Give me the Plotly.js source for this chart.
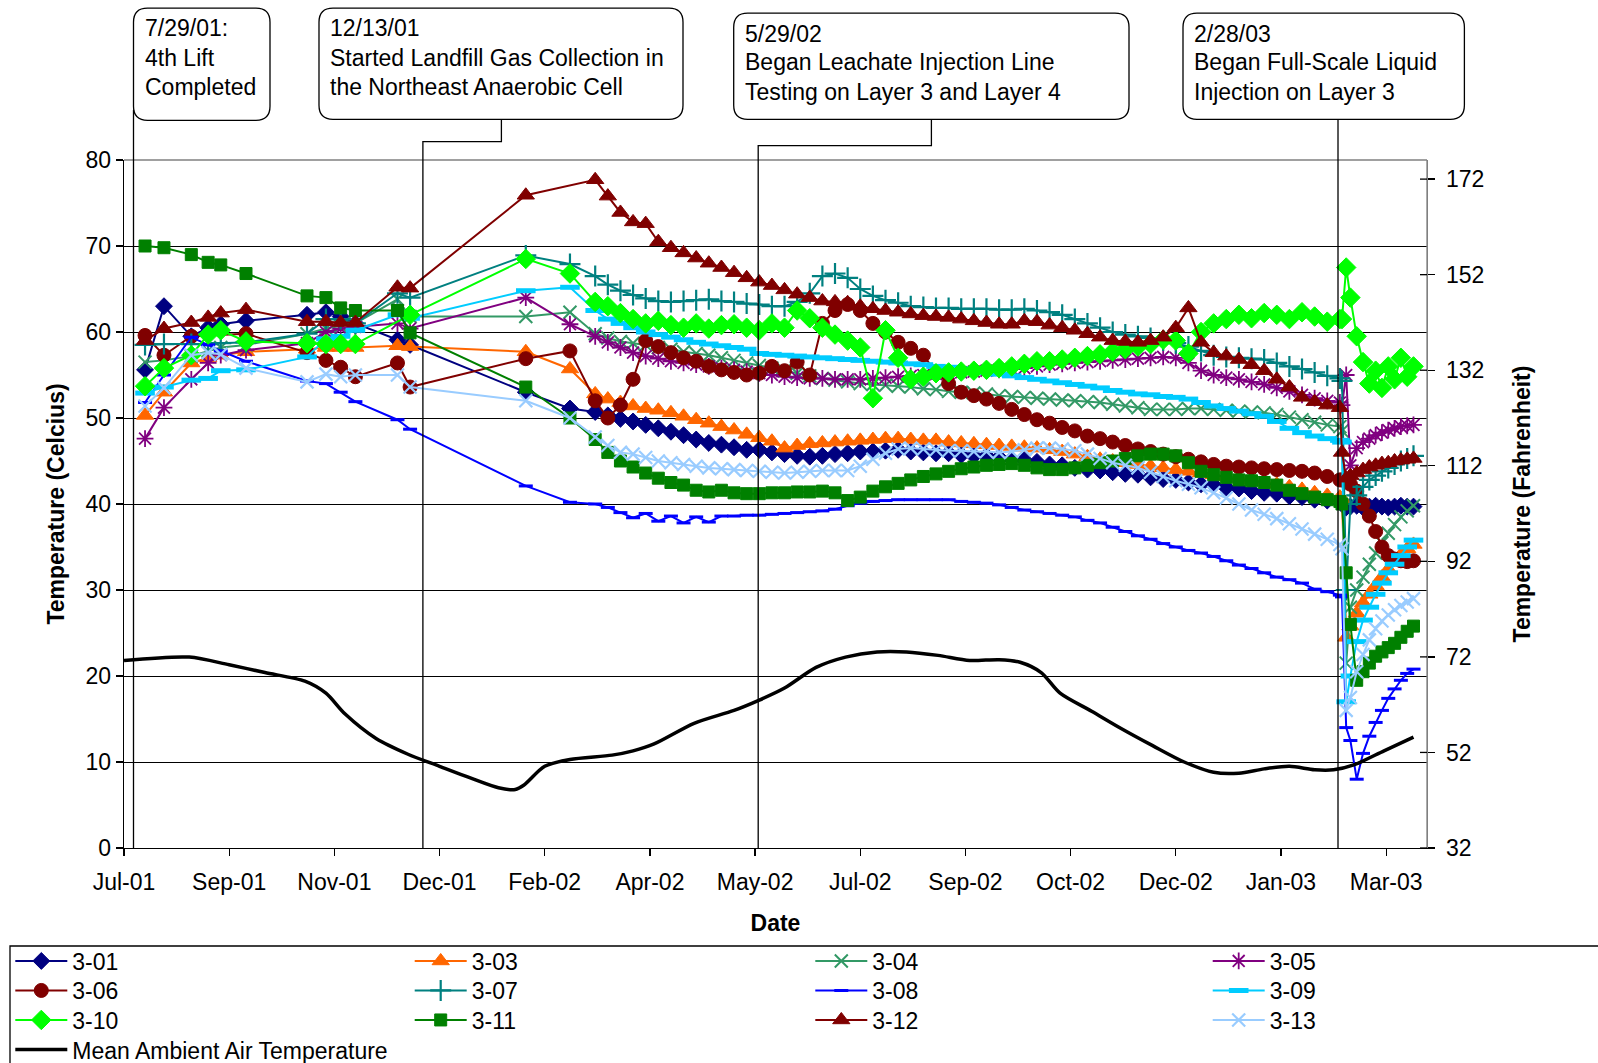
<!DOCTYPE html>
<html><head><meta charset="utf-8">
<script src="https://cdn.plot.ly/plotly-3.0.1.min.js"></script>
<style>html,body{margin:0;padding:0;background:#fff}#chart{width:1598px;height:1063px}</style>
</head><body><div id="chart"></div>
<script>
// ---------------- DATA ----------------
const tickDates = ['2001-07-29','2001-09-17','2001-11-06','2001-12-26','2002-02-14','2002-04-05','2002-05-25','2002-07-14','2002-09-02','2002-10-22','2002-12-11','2003-01-30','2003-03-21'];
const tickLabels = ['Jul-01','Sep-01','Nov-01','Dec-01','Feb-02','Apr-02','May-02','Jul-02','Sep-02','Oct-02','Dec-02','Jan-03','Mar-03'];
const fTicks = [32, 52, 72, 92, 112, 132, 152, 172];

const earlyDates = ['2001-08-08','2001-08-17','2001-08-30','2001-09-07','2001-09-13','2001-09-25','2001-10-24','2001-11-02','2001-11-09','2001-11-16','2001-12-06','2001-12-12'];
const winterDates = ['2002-02-05','2002-02-26'];
const denseDates = ['2002-03-10','2002-03-16','2002-03-22','2002-03-28','2002-04-03','2002-04-09','2002-04-15','2002-04-21','2002-04-27','2002-05-03',
 '2002-05-09','2002-05-15','2002-05-21','2002-05-27','2002-06-02','2002-06-08','2002-06-14','2002-06-20','2002-06-26','2002-07-02',
 '2002-07-08','2002-07-14','2002-07-20','2002-07-26','2002-08-01','2002-08-07','2002-08-13','2002-08-19','2002-08-25','2002-08-31',
 '2002-09-06','2002-09-12','2002-09-18','2002-09-24','2002-09-30','2002-10-06','2002-10-12','2002-10-18','2002-10-24','2002-10-30',
 '2002-11-05','2002-11-11','2002-11-17','2002-11-23','2002-11-29','2002-12-05','2002-12-11','2002-12-17','2002-12-23','2002-12-29',
 '2003-01-04','2003-01-10','2003-01-16','2003-01-22','2003-01-28','2003-02-03','2003-02-09','2003-02-15','2003-02-21','2003-02-27'];
const postDates = ['2003-02-28','2003-03-02','2003-03-04','2003-03-07','2003-03-10','2003-03-13','2003-03-16','2003-03-19','2003-03-22','2003-03-25','2003-03-28','2003-03-31','2003-04-03'];

const t301 = [55.6,63.0,59.5,60.5,60.9,61.3,62.0,62.3,61.8,61.0,59.1,58.5,
 53.0,51.1,
 50.7,50.3,49.9,49.6,49.2,48.8,48.4,48.0,47.5,47.1,
 46.9,46.6,46.3,46.3,46.0,45.8,45.6,45.5,45.6,45.8,
 45.9,46.1,46.1,46.2,46.3,46.1,46.0,45.9,45.9,45.7,
 45.6,45.6,45.4,45.2,45.1,44.9,44.6,44.5,44.2,44.0,
 43.9,43.7,43.5,43.4,43.1,42.9,42.8,42.5,42.3,42.2,
 41.9,41.8,41.5,41.3,41.2,40.9,40.8,40.5,40.4,40.3,
 40.0,39.6,39.7,39.8,39.6,39.7,39.8,39.7,39.6,39.7,39.8,39.7,39.7];
const t303 = [50.3,53.0,56.4,57.0,57.3,57.7,58.0,58.2,58.2,58.2,58.4,58.3,
 57.7,55.7,
 52.8,52.2,51.8,51.4,51.1,50.9,50.6,50.2,49.8,49.4,
 49.0,48.6,48.1,47.7,47.3,46.5,46.8,47.0,47.1,47.2,
 47.3,47.4,47.5,47.6,47.6,47.5,47.4,47.4,47.2,47.1,
 47.0,46.9,46.8,46.7,46.6,46.5,46.3,46.1,45.8,45.5,
 45.2,45.0,44.8,44.6,44.4,44.2,44.0,43.8,43.6,43.4,
 43.2,43.0,42.8,42.6,42.3,42.0,41.7,41.3,41.0,40.8,
 40.6,24.5,25.8,27.3,28.5,29.5,30.5,31.5,32.4,33.3,34.1,34.8,35.3];
const t304 = [56.5,56.7,57.2,57.8,58.2,58.5,59.8,60.4,60.7,61.0,63.8,61.8,
 61.8,62.3,
 59.8,59.3,58.9,58.7,58.5,58.2,58.0,57.7,57.5,57.3,
 57.0,56.7,56.4,56.1,55.8,55.5,55.2,54.9,54.6,54.4,
 54.2,54.0,53.9,53.8,53.7,53.6,53.4,53.3,53.1,53.0,
 52.9,52.8,52.6,52.5,52.4,52.3,52.2,52.1,52.0,51.9,
 51.8,51.6,51.4,51.2,51.0,51.0,51.0,51.1,51.1,51.0,
 50.9,50.8,50.7,50.6,50.4,50.1,49.8,49.5,49.2,49.0,
 48.5,21.5,28.0,30.0,31.5,33.0,34.3,35.5,36.6,37.6,38.5,39.2,39.8];
const t305 = [47.6,51.2,54.5,56.4,57.3,57.9,58.7,60.0,60.4,60.6,61.0,60.4,
 64.0,60.9,
 59.5,58.8,58.2,57.6,57.2,56.9,56.6,56.4,56.2,56.0,
 55.8,55.6,55.4,55.2,55.0,54.8,54.7,54.6,54.6,54.5,
 54.5,54.5,54.6,54.7,54.8,54.9,55.0,55.1,55.2,55.3,
 55.4,55.5,55.6,55.7,55.8,56.0,56.2,56.3,56.4,56.5,
 56.6,56.7,56.8,56.9,57.0,57.1,57.0,56.4,55.5,55.0,
 54.7,54.5,54.2,53.9,53.5,53.1,52.7,52.3,52.0,51.8,
 51.5,55.0,44.5,46.5,47.2,47.6,48.0,48.3,48.6,48.8,49.0,49.1,49.2];
const t306 = [59.6,57.3,59.5,null,null,59.8,57.6,56.7,55.9,54.8,56.4,53.6,
 56.9,57.8,
 52.0,50.0,51.5,54.5,59.0,58.3,57.6,57.0,56.6,56.0,
 55.6,55.3,55.0,55.2,56.0,55.5,56.5,55.0,61.0,62.5,
 63.2,62.5,61.0,60.0,58.8,58.1,57.3,55.3,54.0,53.0,
 52.6,52.2,51.7,51.0,50.4,49.8,49.4,48.9,48.5,47.9,
 47.6,47.2,46.8,46.4,46.1,45.8,45.5,45.2,44.9,44.6,
 44.4,44.3,44.2,44.1,44.0,43.9,43.8,43.6,43.2,42.8,
 42.8,42.6,42.3,41.5,40.0,38.6,36.8,35.0,34.0,33.6,33.4,33.3,33.4];
const t307 = [58.5,58.6,58.6,58.6,58.7,58.8,59.8,61.5,61.5,61.0,64.5,64.0,
 68.9,67.9,
 66.5,65.5,64.8,64.3,63.9,63.6,63.5,63.6,63.7,63.8,
 63.6,63.5,63.3,63.2,63.0,63.0,63.5,64.5,66.5,66.8,
 66.3,65.0,64.2,63.7,63.4,63.0,62.9,62.8,62.8,62.7,
 62.7,62.7,62.6,62.6,62.7,62.5,62.3,62.0,61.5,61.0,
 60.5,60.0,59.7,59.5,59.3,59.0,58.7,58.3,57.8,57.3,
 57.1,57.0,56.9,56.8,56.4,56.0,55.7,55.3,54.9,54.6,
 54.3,30.0,40.0,41.0,42.0,42.8,43.3,43.8,44.2,44.6,45.0,45.3,45.6];
const t308 = [51.8,55.0,59.4,58.5,57.8,56.6,54.3,54.0,53.0,51.9,49.8,48.7,
 42.1,40.2,
 40.0,39.6,39.0,38.4,38.9,38.0,38.6,37.8,38.5,37.9,
 38.6,38.6,38.7,38.7,38.8,38.9,39.0,39.1,39.2,39.4,
 39.8,40.1,40.3,40.4,40.5,40.5,40.5,40.5,40.5,40.3,
 40.2,40.1,39.9,39.6,39.3,39.1,38.9,38.7,38.5,38.1,
 37.8,37.3,36.8,36.3,35.9,35.4,35.0,34.6,34.3,33.9,
 33.4,32.9,32.5,32.0,31.5,31.2,30.8,30.1,29.8,29.4,
 29.2,14.0,12.5,8.0,11.0,13.0,14.6,16.0,17.4,18.5,19.5,20.3,20.8];
const t309 = [52.9,53.6,54.4,54.6,55.5,55.6,57.1,59.2,59.5,60.2,62.0,61.6,
 64.8,65.2,
 62.5,61.5,61.0,60.5,60.0,59.7,59.4,59.1,58.8,58.6,
 58.4,58.2,58.0,57.5,57.4,57.3,57.2,57.1,57.0,56.9,
 56.8,56.7,56.6,56.5,56.4,56.3,56.2,56.0,55.9,55.7,
 55.5,55.3,55.1,54.9,54.7,54.5,54.3,54.1,53.9,53.7,
 53.5,53.2,53.0,52.8,52.7,52.5,52.4,52.2,51.8,51.4,
 51.1,50.8,50.5,50.2,49.6,48.8,48.3,47.9,47.6,47.4,
 47.2,17.0,20.0,24.0,26.5,28.0,29.5,30.8,32.0,33.0,34.0,35.0,35.8];
const t310 = [53.7,55.8,57.3,59.7,60.2,58.9,58.7,58.6,58.6,58.6,null,62.0,
 68.5,66.8,
 63.5,63.0,62.2,61.5,61.0,61.3,60.8,60.5,61.0,60.4,
 60.8,60.9,60.5,60.2,61.0,60.5,62.5,61.6,60.5,59.7,
 59.0,58.2,52.3,60.2,57.0,54.5,54.8,55.2,55.3,55.4,
 55.5,55.6,55.8,56.0,56.3,56.6,56.6,56.8,57.0,57.2,
 57.4,57.7,58.0,58.3,58.6,59.1,59.0,57.5,60.0,61.0,
 61.5,62.0,61.6,62.2,62.0,61.5,62.3,61.8,61.2,61.5,
 61.5,67.5,64.0,59.5,56.5,54.0,55.5,53.5,56.0,54.5,57.0,54.8,56.0];
const t311 = [70.0,69.8,69.0,68.1,67.8,66.8,64.2,64.0,62.8,62.5,62.5,59.9,
 53.6,50.0,
 47.5,46.0,45.0,44.3,43.6,43.0,42.5,42.2,41.6,41.4,
 41.6,41.3,41.2,41.2,41.3,41.3,41.4,41.4,41.5,41.3,
 40.4,40.8,41.5,42.0,42.4,42.8,43.2,43.5,43.8,44.1,
 44.3,44.5,44.6,44.7,44.5,44.2,44.0,44.0,44.2,44.5,
 44.8,45.0,45.3,45.6,45.8,45.8,45.6,44.8,43.8,43.4,
 43.1,42.8,42.7,42.5,42.2,41.6,41.2,40.8,40.5,40.3,
 40.0,32.0,26.0,19.5,20.5,21.5,22.3,22.8,23.3,23.8,24.5,25.2,25.8];
const t312 = [59.0,60.4,61.1,61.7,62.2,62.6,61.2,61.2,61.1,61.1,65.2,65.1,
 75.9,null,
 77.7,75.8,73.9,72.8,72.6,70.5,69.8,69.2,68.6,68.0,
 67.5,66.9,66.3,65.8,65.4,64.9,64.4,64.0,63.6,63.5,
 63.4,63.0,62.7,62.5,62.3,62.1,61.9,61.8,61.7,61.5,
 61.3,61.1,60.9,60.9,61.3,61.2,60.8,60.5,60.2,59.8,
 59.4,59.0,58.9,58.8,59.0,59.4,60.5,62.8,58.8,57.6,
 57.2,56.8,56.2,55.5,54.5,53.6,52.4,51.9,51.5,51.2,
 46.0,43.0,43.3,43.6,44.0,44.3,44.5,44.7,44.8,45.0,45.1,45.2,45.3];
const t313 = [51.4,53.5,57.3,57.6,57.4,55.8,54.2,55.1,54.8,55.0,55.0,53.6,
 52.0,50.0,
 47.8,46.8,46.0,45.8,45.4,45.0,44.8,44.6,44.4,44.2,
 44.1,44.0,43.9,43.8,43.7,43.6,43.7,43.8,43.9,43.9,
 43.9,44.4,45.2,45.9,46.4,46.5,46.4,46.3,46.2,46.2,
 46.1,46.1,46.0,46.1,46.3,46.5,46.5,46.4,46.2,45.8,
 45.3,44.8,44.5,44.2,43.7,43.2,42.7,42.3,41.9,41.3,
 40.7,40.0,39.3,38.8,38.3,37.7,37.1,36.5,35.9,35.3,
 34.8,16.0,17.5,20.5,22.5,24.2,25.5,26.4,27.1,27.7,28.2,28.6,29.0];

const ambDates = ['2001-07-29','2001-08-29','2001-09-17','2001-10-04','2001-10-23','2001-11-02','2001-11-11','2001-11-26','2001-12-11','2001-12-26',
 '2002-01-09','2002-01-23','2002-01-31','2002-02-04','2002-02-14','2002-02-26','2002-03-18','2002-03-28','2002-04-07','2002-04-26',
 '2002-05-15','2002-05-27','2002-06-08','2002-06-23','2002-07-07','2002-07-22','2002-08-05','2002-08-20','2002-09-04','2002-09-18',
 '2002-09-28','2002-10-08','2002-10-17','2002-11-01','2002-11-15','2002-11-30','2002-12-15','2002-12-29','2003-01-10','2003-01-22',
 '2003-02-03','2003-02-15','2003-02-24','2003-03-06','2003-03-20','2003-04-03'];
const ambTemp = [21.8,22.2,21.3,20.4,19.4,18.0,15.6,12.7,10.9,9.5,
 8.2,7.0,6.8,7.3,9.5,10.3,10.8,11.3,12.1,14.5,
 16.0,17.2,18.6,21.0,22.2,22.8,22.8,22.4,21.8,21.9,
 21.6,20.4,18.0,15.9,13.9,11.9,10.0,8.8,8.7,9.2,
 9.5,9.1,9.1,9.7,11.3,12.9];

// ---------------- LAYOUT HELPERS ----------------
const W = 1598, H = 1063, L = 124, R = 1427, T = 160, B = 848;
const px = x => (x - L) / (R - L);
const py = y => (B - y) / (B - T);
const FONT = 'Liberation Sans, Arial, Helvetica, sans-serif';
const allDates = earlyDates.concat(winterDates, denseDates, postDates);

const specs = [
  ['3-01', t301, '#000080', 'diamond', 13, 1],
  ['3-03', t303, '#FF6600', 'triangle-up', 15, 1],
  ['3-04', t304, '#339966', 'x-thin-open', 13, 2],
  ['3-05', t305, '#800080', 'asterisk-open', 14, 1.8],
  ['3-06', t306, '#800000', 'circle', 14, 1],
  ['3-07', t307, '#008080', 'cross-thin-open', 15, 2.2],
  ['3-08', t308, '#0000FF', 'line-ew-open', 10, 3],
  ['3-09', t309, '#00CCFF', 'line-ew-open', 14, 5],
  ['3-10', t310, '#00FF00', 'diamond', 15, 1],
  ['3-11', t311, '#008000', 'square', 12, 1],
  ['3-12', t312, '#800000', 'triangle-up', 15, 1],
  ['3-13', t313, '#99CCFF', 'x-thin-open', 13, 2.2]
];
const colX = [15.3, 414.7, 815.3, 1212.7];
const rowY = [961, 990.5, 1020, 1049.6];
const legKey = i => i === 0 ? 'legend' : 'legend' + (i + 1);

const traces = specs.map((s, i) => ({
  type: 'scatter', mode: 'lines+markers', name: s[0], x: allDates, y: s[1],
  connectgaps: true, showlegend: true, legend: legKey(i), hoverinfo: 'skip',
  line: {color: s[2], width: 2},
  marker: {symbol: s[3], size: s[4], color: s[2], line: {color: s[2], width: s[5]}}
}));
traces.push({
  type: 'scatter', mode: 'lines', name: 'Mean Ambient Air Temperature', x: ambDates, y: ambTemp,
  line: {color: '#000000', width: 3.5, shape: 'spline', smoothing: 0.8},
  showlegend: true, legend: legKey(12), hoverinfo: 'skip'
});
// empty helper trace so the Fahrenheit axis is drawn
traces.push({type: 'scatter', mode: 'markers', x: [tickDates[0]], y: [null], yaxis: 'y2', showlegend: false, hoverinfo: 'skip'});

const layout = {
  width: W, height: H, paper_bgcolor: '#fff', plot_bgcolor: '#fff',
  margin: {l: L, r: W - R, t: T, b: H - B, autoexpand: false},
  font: {family: FONT, size: 23, color: '#000'},
  hovermode: false,
  xaxis: {
    type: 'date', range: ['2001-07-29', '2003-04-09 10:00'],
    tickmode: 'array', tickvals: tickDates, ticktext: tickLabels,
    ticks: 'outside', ticklen: 7, tickwidth: 1.3, tickcolor: '#000', ticklabelstandoff: 6,
    showline: true, linecolor: '#000', linewidth: 1.3, showgrid: false, zeroline: false,
    tickfont: {family: FONT, size: 23, color: '#000'},
    title: {text: '<b>Date</b>', font: {family: FONT, size: 23, color: '#000'}, standoff: 21}
  },
  yaxis: {
    range: [0, 80], tickmode: 'array', tickvals: [0,10,20,30,40,50,60,70,80],
    ticks: 'outside', ticklen: 7, tickwidth: 1.3, tickcolor: '#000',
    showline: true, linecolor: '#000', linewidth: 1.3,
    showgrid: true, gridcolor: '#000', gridwidth: 1, zeroline: false,
    tickfont: {family: FONT, size: 23, color: '#000'},
    title: {text: '<b>Temperature (Celcius)</b>', font: {family: FONT, size: 23, color: '#000'}, standoff: 14}
  },
  yaxis2: {
    overlaying: 'y', side: 'right', anchor: 'x', range: [32, 176],
    tickmode: 'array', tickvals: fTicks,
    ticks: 'outside', ticklen: 7, tickwidth: 1.3, tickcolor: '#000', ticklabelstandoff: 6,
    showline: true, linecolor: '#808080', linewidth: 1.3, showgrid: false, zeroline: false,
    tickfont: {family: FONT, size: 23, color: '#000'},
    title: {text: '<b>Temperature (Fahrenheit)</b>', font: {family: FONT, size: 23, color: '#000'}, standoff: 30}
  },
  shapes: [], annotations: []
};

// legends: one per entry, placed in a 4-column grid
for (let i = 0; i < 13; i++) {
  const col = i < 12 ? i % 4 : 0, row = i < 12 ? Math.floor(i / 4) : 3;
  layout[legKey(i)] = {
    x: px(colX[col] - 5), y: py(rowY[row]), xref: 'paper', yref: 'paper',
    xanchor: 'left', yanchor: 'middle', orientation: 'v',
    bgcolor: 'rgba(0,0,0,0)', borderwidth: 0, itemwidth: 52,
    font: {family: FONT, size: 23, color: '#000'}
  };
}

function P(x, y) { return px(x).toFixed(5) + ',' + py(y).toFixed(5); }
function rr(x0, y0, x1, y1, r) {
  return 'M' + P(x0 + r, y0) + ' L' + P(x1 - r, y0) + ' Q' + P(x1, y0) + ' ' + P(x1, y0 + r) +
    ' L' + P(x1, y1 - r) + ' Q' + P(x1, y1) + ' ' + P(x1 - r, y1) +
    ' L' + P(x0 + r, y1) + ' Q' + P(x0, y1) + ' ' + P(x0, y1 - r) +
    ' L' + P(x0, y0 + r) + ' Q' + P(x0, y0) + ' ' + P(x0 + r, y0) + ' Z';
}
const ln = {color: '#000', width: 1.3};
const addPath = (path, line) => layout.shapes.push({type: 'path', xref: 'paper', yref: 'paper', path, line, layer: 'above'});

// plot-area border (top and right) in grey
layout.shapes.push({type: 'line', xref: 'paper', yref: 'paper', x0: 0, x1: 1, y0: 1, y1: 1, line: {color: '#808080', width: 1.3}, layer: 'above'});
layout.shapes.push({type: 'line', xref: 'paper', yref: 'paper', x0: 1, x1: 1, y0: 0, y1: 1, line: {color: '#808080', width: 1.3}, layer: 'above'});
// inner half of the crossing ticks on the Fahrenheit axis
fTicks.forEach(f => layout.shapes.push({type: 'line', xref: 'paper', yref: 'y2', x0: 1 - 7 / (R - L), x1: 1, y0: f, y1: f, line: {color: '#000', width: 1.3}, layer: 'above'}));

// callout boxes
const boxes = [
  [133.5, 8.2, 270, 120.3, 143.7, [28.5, 58, 86.6], ['7/29/01:', '4th Lift', 'Completed']],
  [319, 8.2, 683, 119.3, 329.1, [28.5, 58, 86.6], ['12/13/01', 'Started Landfill Gas Collection in', 'the Northeast Anaerobic Cell']],
  [733.7, 13.2, 1129, 119.3, 743.9, [33.6, 62.2, 91.7], ['5/29/02', 'Began Leachate Injection Line', 'Testing on Layer 3 and Layer 4']],
  [1183, 13.2, 1464.4, 119.3, 1193.3, [33.6, 62.2, 91.7], ['2/28/03', 'Began Full-Scale Liquid', 'Injection on Layer 3']]
];
boxes.forEach(b => {
  addPath(rr(b[0], b[1], b[2], b[3], 14), ln);
  b[6].forEach((t, j) => layout.annotations.push({
    xref: 'paper', yref: 'paper', x: px(b[4]), y: py(b[5][j]), xanchor: 'left', yanchor: 'middle',
    text: t, showarrow: false, font: {family: FONT, size: 23, color: '#000'}, borderpad: 0
  }));
});
// connector lines
addPath('M' + P(133.5, 110) + ' L' + P(133.5, 848), ln);
addPath('M' + P(501.4, 119.3) + ' L' + P(501.4, 141.6) + ' L' + P(422.9, 141.6) + ' L' + P(422.9, 848), ln);
addPath('M' + P(931.4, 119.3) + ' L' + P(931.4, 145.7) + ' L' + P(758.2, 145.7) + ' L' + P(758.2, 848), ln);
addPath('M' + P(1338, 119.3) + ' L' + P(1338, 848), ln);
// legend frame
layout.shapes.push({type: 'rect', xref: 'paper', yref: 'paper', x0: px(10), x1: px(1650), y0: py(946), y1: py(1110), line: {color: '#000', width: 1.3}, layer: 'above'});

Plotly.newPlot('chart', traces, layout, {staticPlot: true, displayModeBar: false});
</script></body></html>
